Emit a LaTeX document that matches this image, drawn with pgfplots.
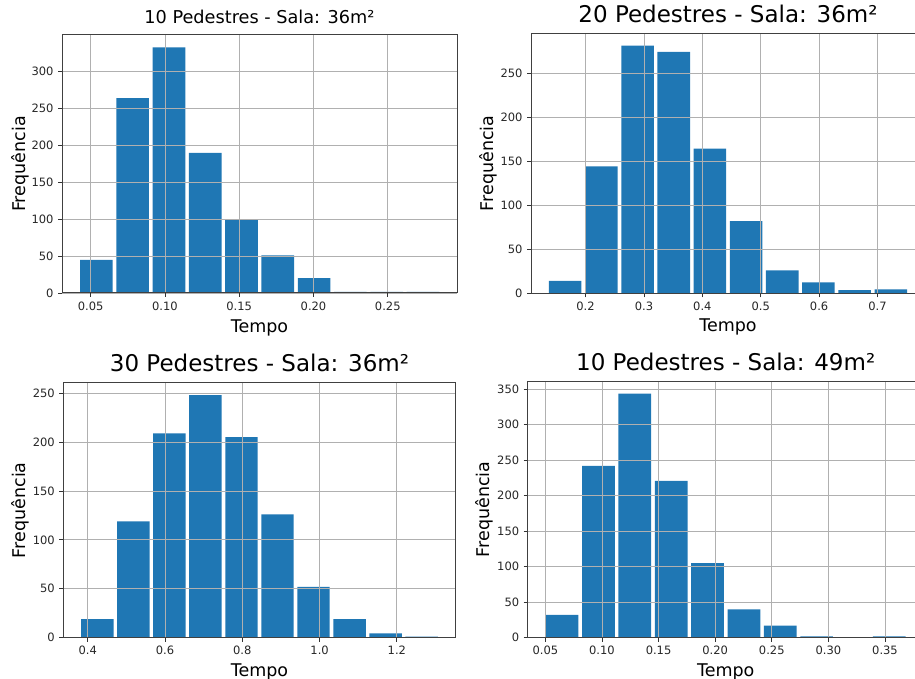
\documentclass[border=0pt]{standalone}
\usepackage{fontspec}
\setmainfont{DejaVu Sans}
\usepackage{pgfplots}
\pgfplotsset{compat=1.18}
\definecolor{mplblue}{RGB}{31,119,180}
\definecolor{gridgray}{RGB}{176,176,176}
\pgfplotsset{
  histo/.style={
    scale only axis, anchor=south west,
    ybar, bar shift=0pt,
    ymin=0,
    axis on top,
    grid=major,
    major grid style={color=gridgray, line width=0.8pt},
    axis line style={color=black!75, line width=1pt},
    tick align=outside, tick pos=left,
    major tick length=4pt,
    tick style={color=black!80, line width=0.8pt},
    /pgf/number format/assume math mode=true,
    ticklabel style={font=\fontsize{11.5}{13}\selectfont, color=black!85},
    xticklabel style={yshift=-1pt},
    yticklabel style={xshift=-1pt},
    scaled ticks=false,
    xlabel={Tempo}, ylabel={Frequência},
    label style={font=\fontsize{17.5}{20}\selectfont},
    xlabel style={at={(axis description cs:0.5,0)}, anchor=base},
    ylabel style={at={(axis description cs:0,0.5)}, anchor=base},
    title style={at={(axis description cs:0.5,1)}, anchor=base, yshift=5pt, font=\fontsize{23}{26}\selectfont},
  },
  bars/.style={fill=mplblue, draw=none},
}
\begin{document}
\begin{tikzpicture}[x=1pt,y=1pt]
\useasboundingbox (0,0) rectangle (915,679);
\clip (0,0) rectangle (915,679);
% Plot 1
\begin{axis}[histo, at={(62pt,386pt)}, width=395pt, height=258pt,
  xmin=0.0307, xmax=0.2966, ymax=349.7,
  bar width=0.02199,
  xtick={0.05,0.10,0.15,0.20,0.25},
  ytick={0,50,100,150,200,250,300},
  xticklabel style={/pgf/number format/.cd, fixed, fixed zerofill, precision=2},
  xlabel style={yshift=-40pt}, ylabel style={yshift=37pt},
  title style={font=\fontsize{17.7}{20}\selectfont},
  title={10 Pedestres - Sala: 36m²}]
\addplot[bars] coordinates {(0.05382,45) (0.07825,264) (0.10268,333) (0.12711,190) (0.15154,100) (0.17597,51) (0.20040,20) (0.22483,1.5) (0.24926,1.5) (0.27369,1.5)};
\end{axis}
% Plot 2
\begin{axis}[histo, at={(531pt,385.7pt)}, width=394pt, height=260pt,
  xmin=0.1066, xmax=0.7813, ymax=295,
  bar width=0.05576,
  xtick={0.2,0.3,0.4,0.5,0.6,0.7},
  ytick={0,50,100,150,200,250},
  xticklabel style={/pgf/number format/.cd, fixed, fixed zerofill, precision=1},
  xlabel style={yshift=-38.5pt}, ylabel style={yshift=38pt},
  title={20 Pedestres - Sala: 36m²}]
\addplot[bars] coordinates {(0.16518,14) (0.22713,144) (0.28908,281) (0.35103,274) (0.41298,164) (0.47493,82) (0.53688,26) (0.59883,12.5) (0.66078,3.5) (0.72273,4.5)};
\end{axis}
% Plot 3
\begin{axis}[histo, at={(63.3pt,41.3pt)}, width=392.4pt, height=255pt,
  xmin=0.3367, xmax=1.3523, ymax=260.7,
  bar width=0.08393,
  xtick={0.4,0.6,0.8,1.0,1.2},
  ytick={0,50,100,150,200,250},
  xticklabel style={/pgf/number format/.cd, fixed, fixed zerofill, precision=1},
  xlabel style={yshift=-39pt}, ylabel style={yshift=38pt},
  title={30 Pedestres - Sala: 36m²}]
\addplot[bars] coordinates {(0.42483,19) (0.51808,119) (0.61133,209) (0.70458,248) (0.79783,205) (0.89108,126) (0.98433,52) (1.07758,19) (1.17083,4.5) (1.26408,1)};
\end{axis}
% Plot 4
\begin{axis}[histo, at={(527.7pt,41.3pt)}, width=396pt, height=256.4pt,
  xmin=0.0344, xmax=0.3842, ymax=361.2,
  bar width=0.02891,
  xtick={0.05,0.10,0.15,0.20,0.25,0.30,0.35},
  ytick={0,50,100,150,200,250,300,350},
  xticklabel style={/pgf/number format/.cd, fixed, fixed zerofill, precision=2},
  xlabel style={yshift=-39pt}, ylabel style={yshift=38pt},
  title={10 Pedestres - Sala: 49m²}]
\addplot[bars] coordinates {(0.06476,32) (0.09688,242) (0.12900,344) (0.16112,221) (0.19324,105) (0.22536,40) (0.25748,17) (0.28960,2) (0.32172,0) (0.35384,2)};
\end{axis}
\end{tikzpicture}
\end{document}
